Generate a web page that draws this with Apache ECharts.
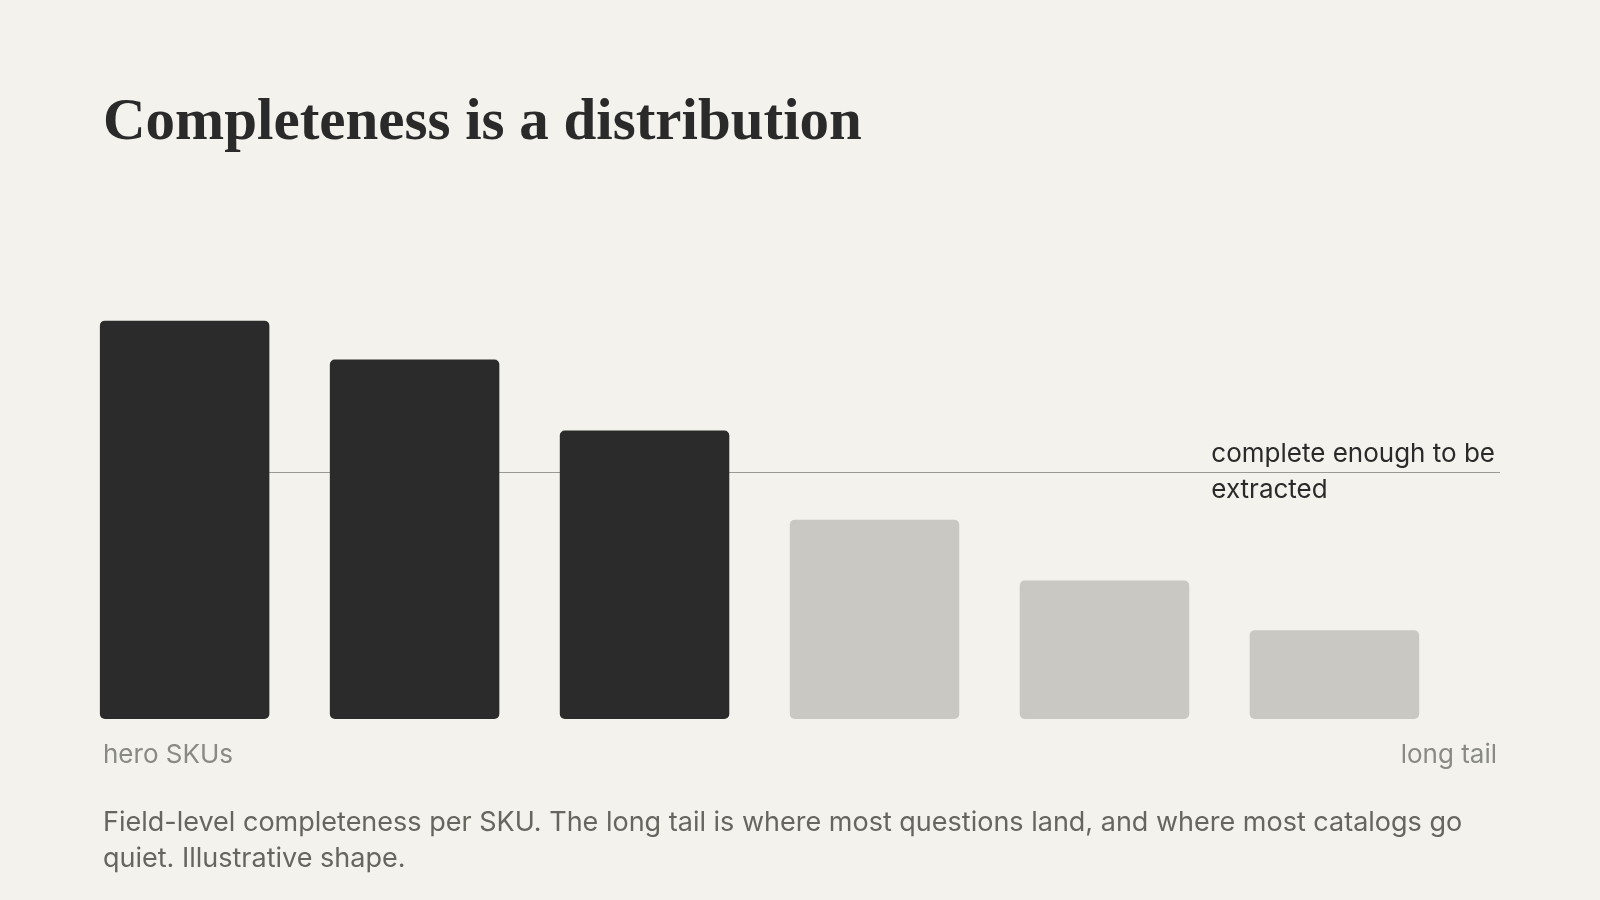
<!DOCTYPE html>
<html><head><meta charset="utf-8">
<script src="https://cdn.jsdelivr.net/npm/echarts@6/dist/echarts.min.js"></script>
<style>html,body{margin:0;background:#f3f2ed}#c{width:1600px;height:900px}</style>
</head><body><div id="c"></div>
<script>
const categories = ['1','2','3','4','5','6'];
const values = [0.92, 0.83, 0.666, 0.46, 0.32, 0.205];
const extracted = [true, true, true, false, false, false];
const threshold = 0.574;
const chart = echarts.init(document.getElementById('c'));
const sans = 'Inter, "Noto Sans", sans-serif';
chart.setOption({
  backgroundColor: '#f3f2ed',
  title: [
    {text: 'Completeness is a distribution', left: 98, top: 89,
     textStyle: {fontFamily: '"Liberation Serif", serif', fontWeight: 'bold', fontSize: 59, color: '#2a2a2a'}},
    {text: 'complete enough to be\nextracted', right: 100, top: 431,
     textStyle: {fontFamily: sans, fontWeight: 'normal', fontSize: 26, lineHeight: 36, color: '#2a2a2a', align: 'right'}},
    {text: 'hero SKUs', left: 98, top: 737,
     textStyle: {fontFamily: sans, fontWeight: 'normal', fontSize: 26, color: '#8a8a85'}},
    {text: 'long tail', right: 98, top: 737,
     textStyle: {fontFamily: sans, fontWeight: 'normal', fontSize: 26, color: '#8a8a85'}},
    {text: 'Field-level completeness per SKU. The long tail is where most questions land, and where most catalogs go\nquiet. Illustrative shape.',
     left: 98, top: 800,
     textStyle: {fontFamily: sans, fontWeight: 'normal', fontSize: 27, lineHeight: 36, color: '#66665f'}}
  ],
  grid: {left: 100, right: 100, top: 286, bottom: 181},
  xAxis: {type: 'value', min: -0.368, max: 5.72, show: false},
  yAxis: {type: 'value', min: 0, max: 1, show: false},
  series: [
    {type: 'line', data: [], z: 1, silent: true,
     markLine: {symbol: 'none', silent: true, z: 1, label: {show: false},
       lineStyle: {color: '#9a9a94', width: 1, type: 'solid'},
       data: [{yAxis: threshold}]}},
    {type: 'bar', z: 10, barWidth: 169.5,
     data: values.map((v, i) => ({value: [i, v], itemStyle: {color: extracted[i] ? '#2b2b2b' : '#c9c8c3', borderRadius: 5}}))}
  ]
});
</script></body></html>
